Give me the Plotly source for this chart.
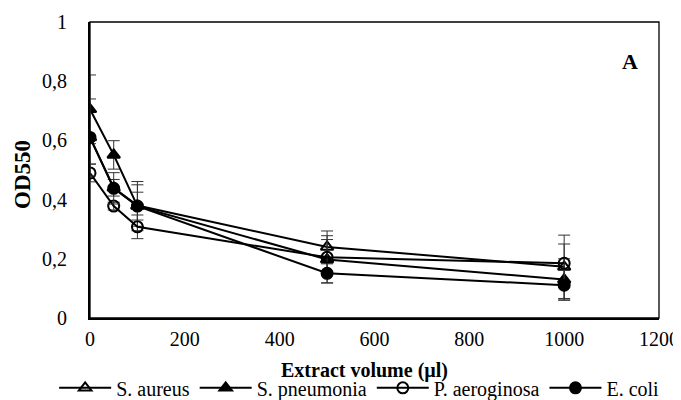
import plotly.graph_objects as go

x_vol = [0, 50, 100, 500, 1000]

s_aureus = [0.61, 0.44, 0.38, 0.24, 0.173]
s_aureus_err = [0.09, 0.028, 0.07, 0.054, 0.107]
s_pneumonia = [0.705, 0.551, 0.378, 0.198, 0.13]
s_pneumonia_err = [0.116, 0.048, 0.083, 0.08, 0.07]
p_aeroginosa = [0.49, 0.378, 0.308, 0.205, 0.185]
p_aeroginosa_err = [0.03, 0.013, 0.04, 0.06, 0.065]
e_coli = [0.61, 0.438, 0.378, 0.151, 0.111]
e_coli_err = [0.13, 0.053, 0.047, 0.032, 0.05]

series = [
    ("S. aureus", s_aureus, s_aureus_err, "triangle-up-open"),
    ("S. pneumonia", s_pneumonia, s_pneumonia_err, "triangle-up"),
    ("P. aeroginosa", p_aeroginosa, p_aeroginosa_err, "circle-open"),
    ("E. coli", e_coli, e_coli_err, "circle"),
]

FONT = "'Liberation Serif', 'Times New Roman', Tinos, 'DejaVu Serif', serif"

fig = go.Figure()
for name, y, err, sym in series:
    fig.add_trace(go.Scatter(
        x=x_vol, y=y, name=name, mode="lines+markers",
        line=dict(color="black", width=2),
        marker=dict(symbol=sym, size=11, color="black",
                    line=dict(color="black", width=2)),
        error_y=dict(type="data", array=err, visible=True,
                     color="#333333", thickness=1, width=6),
    ))

fig.update_layout(
    width=673, height=392,
    margin=dict(l=82, r=22, t=14, b=82, autoexpand=False),
    paper_bgcolor="white", plot_bgcolor="white",
    separators=", ",
    font=dict(family=FONT, size=20, color="black"),
    showlegend=True,
    legend=dict(orientation="h", xref="paper", x=-0.063, xanchor="left",
                yref="paper", y=-0.236, yanchor="middle",
                font=dict(family=FONT, size=20, color="black"),
                itemwidth=52,
                bgcolor="rgba(0,0,0,0)", tracegroupgap=0),
    xaxis=dict(range=[0, 1200], dtick=200, tick0=0, showgrid=False, zeroline=False,
               showline=True, linecolor="black", linewidth=2, ticks="",
               automargin=False, ticklabelstandoff=2,
               tickfont=dict(family=FONT, size=20, color="black")),
    yaxis=dict(range=[0, 1], dtick=0.2, tick0=0, showgrid=False, zeroline=False,
               showline=True, linecolor="black", linewidth=2, ticks="",
               automargin=False, ticklabelstandoff=17,
               tickfont=dict(family=FONT, size=20, color="black")),
    shapes=[dict(type="rect", xref="paper", yref="paper", x0=0, y0=0, x1=1, y1=1,
                 line=dict(color="black", width=1.3), layer="below")],
    annotations=[
        dict(text="<b>A</b>", x=1138, y=0.865, xref="x", yref="y",
             showarrow=False, font=dict(family=FONT, size=22, color="black")),
        dict(text="<b>Extract volume (µl)</b>", x=0.483, y=0, xref="paper", yref="paper",
             yshift=-52, yanchor="middle", xanchor="center", showarrow=False,
             font=dict(family=FONT, size=20, color="black")),
        dict(text="<b>OD550</b>", x=0, y=0.5, xref="paper", yref="paper",
             xshift=-68, yshift=-5, xanchor="center", yanchor="middle", textangle=-90,
             showarrow=False, font=dict(family=FONT, size=23, color="black")),
    ],
)

fig.write_html("out.html")
